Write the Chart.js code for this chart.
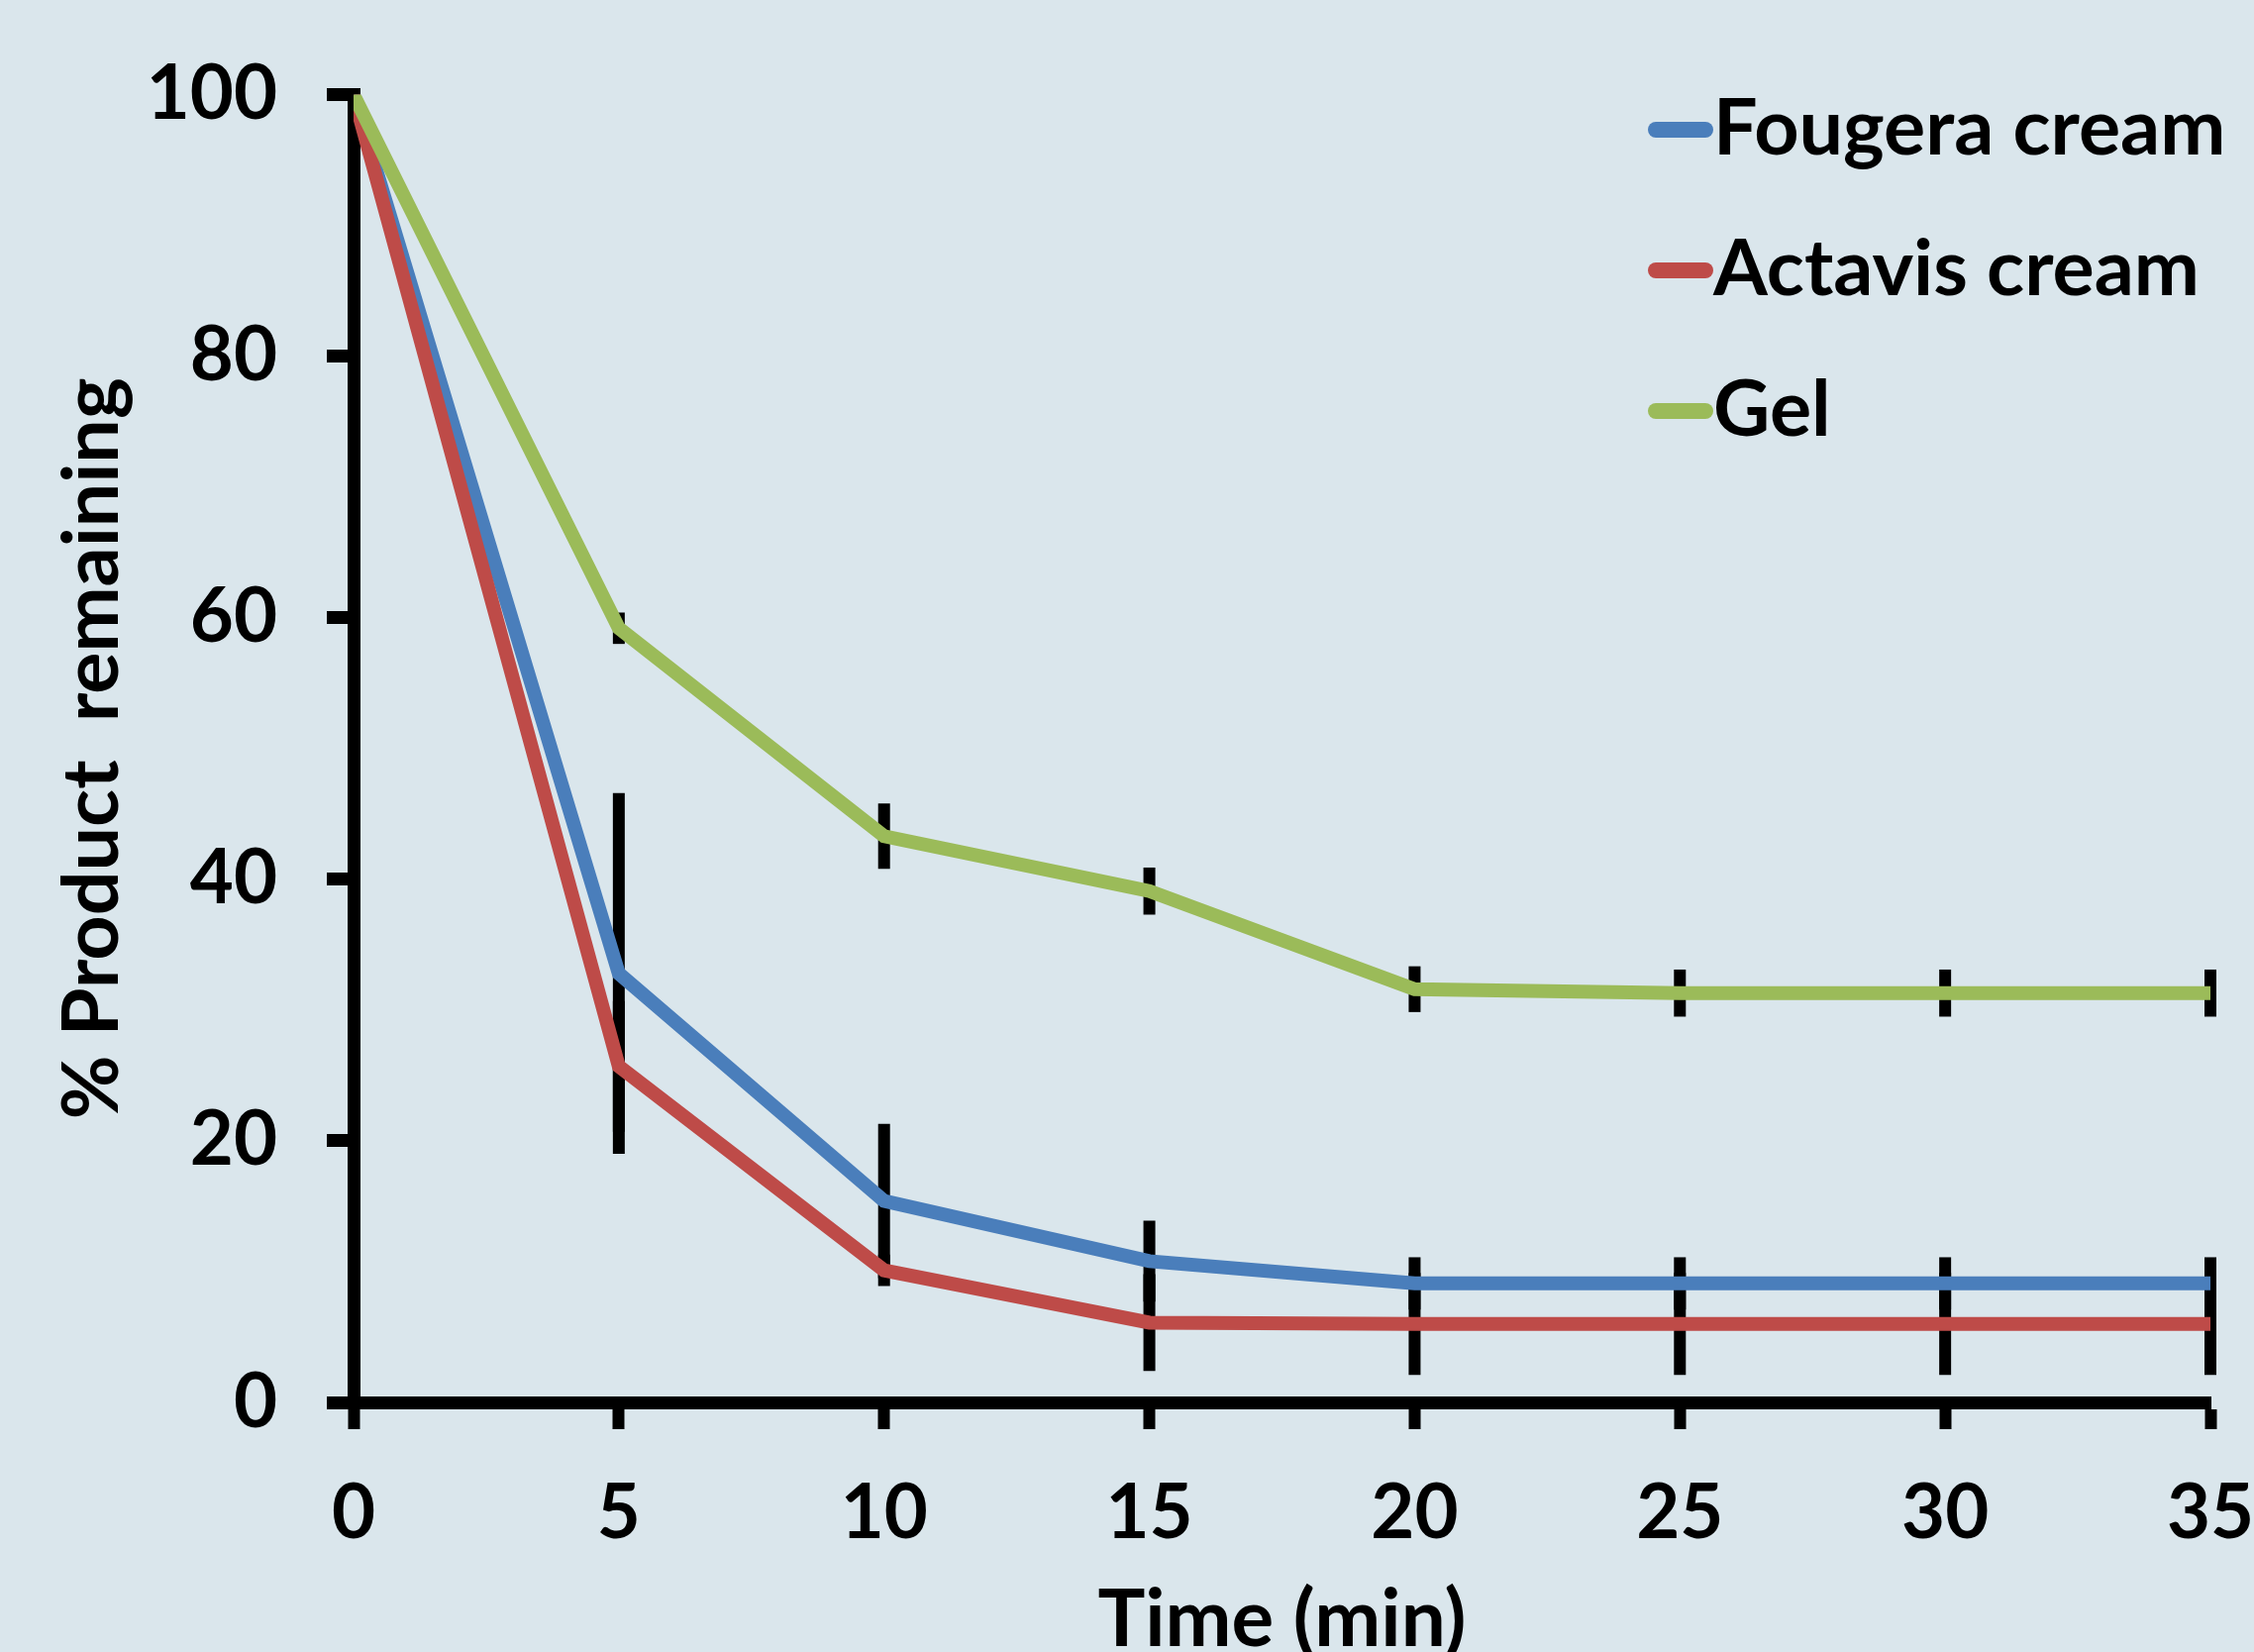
<!DOCTYPE html>
<html>
<head>
<meta charset="utf-8">
<script src="https://cdn.jsdelivr.net/npm/chart.js@4.4.1/dist/chart.umd.min.js"></script>
<style>
  html, body { margin: 0; padding: 0; background: #dae6ec; overflow: hidden; }
  canvas { display: block; }
</style>
</head>
<body>
<canvas id="myChart" width="2276" height="1700"></canvas>
<script>
// time points (min)
const timeLabels = [0, 5, 10, 15, 20, 25, 30, 35];

// % product remaining
const fougera = [100, 32.8, 15.4, 10.8, 9.1, 9.1, 9.1, 9.1];
const actavis = [100, 25.7, 10.1, 6.1, 6.0, 6.0, 6.0, 6.0];
const gel = [100, 59.2, 43.3, 39.1, 31.6, 31.3, 31.3, 31.3];

// error bars (+/-)
const fougeraErr = [0, 13.8, 5.9, 3.1, 2.0, 2.0, 2.0, 2.0];
const actavisErr = [0, 5.0, 1.2, 3.7, 3.9, 3.9, 3.9, 3.9];
const gelErr = [0, 1.2, 2.5, 1.8, 1.75, 1.8, 1.8, 1.8];

const seriesNames = ["Fougera cream", "Actavis cream", "Gel"];
const yTicks = [0, 20, 40, 60, 80, 100];

const FONT = "Lato";

const toPoints = (arr) => arr.map((v, i) => ({ x: timeLabels[i], y: v }));

// black error bars, drawn under the lines
const errorBars = {
  id: "errorBars",
  beforeDatasetsDraw(chart) {
    const ctx = chart.ctx;
    const xs = chart.scales.x;
    const ys = chart.scales.y;
    ctx.save();
    ctx.strokeStyle = "#000";
    ctx.lineWidth = 12;
    ctx.lineCap = "butt";
    chart.data.datasets.forEach((ds) => {
      ds.errors.forEach((e, i) => {
        if (!e) return;
        const px = xs.getPixelForValue(timeLabels[i]);
        const v = ds.data[i].y;
        ctx.beginPath();
        ctx.moveTo(px, ys.getPixelForValue(v + e));
        ctx.lineTo(px, ys.getPixelForValue(v - e));
        ctx.stroke();
      });
    });
    ctx.restore();
  },
};

// legend inside the plot, top right
const insideLegend = {
  id: "insideLegend",
  afterDraw(chart) {
    const ctx = chart.ctx;
    ctx.save();
    ctx.font = "bold 79px " + FONT;
    ctx.textBaseline = "middle";
    ctx.fillStyle = "#000";
    chart.data.datasets.forEach((ds, i) => {
      const y = 131 + i * 142;
      ctx.strokeStyle = ds.borderColor;
      ctx.lineWidth = 16;
      ctx.lineCap = "round";
      ctx.beginPath();
      ctx.moveTo(1672, y);
      ctx.lineTo(1722, y);
      ctx.stroke();
      ctx.fillText(ds.label, 1730, y);
    });
    ctx.restore();
  },
};

const ctx = document.getElementById("myChart").getContext("2d");

new Chart(ctx, {
  type: "line",
  data: {
    datasets: [
      { label: seriesNames[0], data: toPoints(fougera), errors: fougeraErr, borderColor: "#4a7ebb", order: 2 },
      { label: seriesNames[1], data: toPoints(actavis), errors: actavisErr, borderColor: "#be4b48", order: 1 },
      { label: seriesNames[2], data: toPoints(gel), errors: gelErr, borderColor: "#9bbb59", order: 0 },
    ],
  },
  options: {
    responsive: false,
    animation: false,
    devicePixelRatio: 1,
    layout: { padding: { top: 95, right: 44, left: 0, bottom: 0 } },
    elements: {
      line: { borderWidth: 14, tension: 0, fill: false },
      point: { radius: 0, hoverRadius: 0 },
    },
    plugins: {
      legend: { display: false },
      tooltip: { enabled: false },
    },
    scales: {
      x: {
        type: "linear",
        min: 0,
        max: 35,
        afterFit: (s) => {
          s.height = 284;
          s.paddingLeft = 0;
          s.paddingRight = 0;
        },
        ticks: {
          stepSize: 5,
          color: "#000",
          padding: 40,
          font: { family: FONT, weight: "bold", size: 76 },
        },
        grid: { drawOnChartArea: false, drawTicks: true, tickLength: 27, tickWidth: 12, tickColor: "#000" },
        border: { display: true, color: "#000", width: 13 },
        title: {
          display: true,
          text: "Time (min)",
          color: "#000",
          font: { family: FONT, weight: "bold", size: 80 },
          padding: { top: 0, bottom: 16 },
        },
      },
      y: {
        min: 0,
        max: 100,
        afterFit: (s) => { s.width = 357; },
        afterBuildTicks: (s) => { s.ticks = yTicks.map((v) => ({ value: v })); },
        ticks: {
          color: "#000",
          padding: 50,
          font: { family: FONT, weight: "bold", size: 76 },
        },
        grid: { drawOnChartArea: false, drawTicks: true, tickLength: 27, tickWidth: 13, tickColor: "#000" },
        border: { display: true, color: "#000", width: 13 },
        title: {
          display: true,
          text: "% Product  remaining",
          color: "#000",
          font: { family: FONT, weight: "bold", size: 79 },
          padding: { top: 46, bottom: 0 },
        },
      },
    },
  },
  plugins: [errorBars, insideLegend],
});
</script>
</body>
</html>
